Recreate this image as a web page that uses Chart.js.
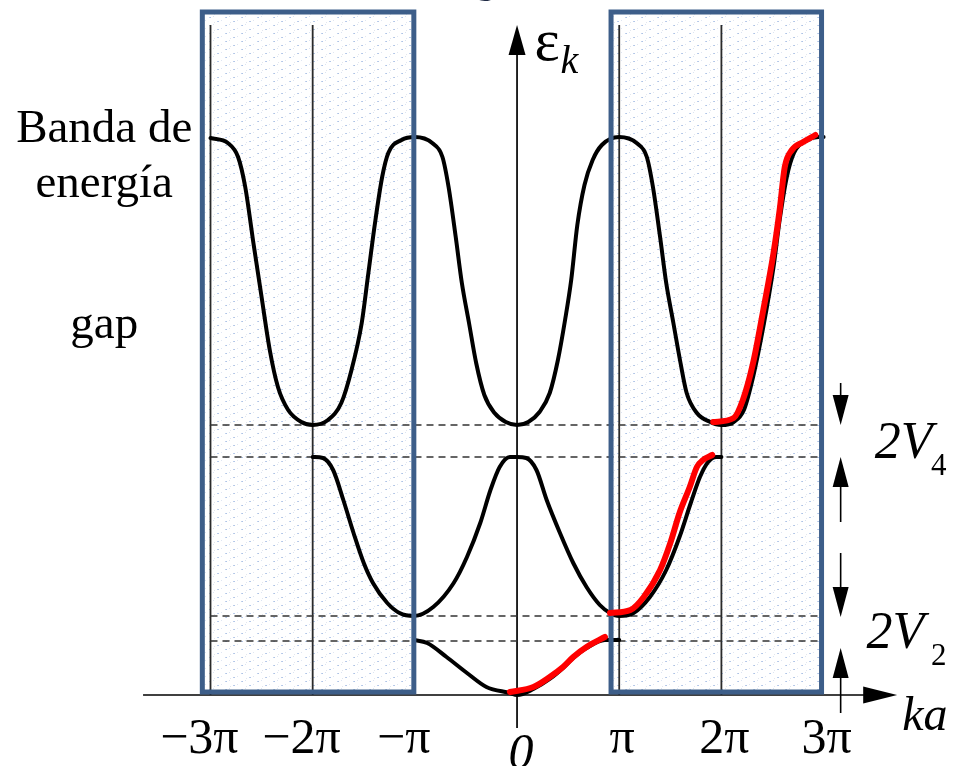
<!DOCTYPE html>
<html>
<head>
<meta charset="utf-8">
<script src="https://cdn.jsdelivr.net/npm/chart.js@4"></script>
<style>
  html, body { margin: 0; padding: 0; background: #fff; }
  #wrap { width: 960px; height: 766px; }
</style>
</head>
<body>
<div id="wrap"><canvas id="bands" width="960" height="766"></canvas></div>
<script>
// ka in units of pi, energy in arbitrary units (ka axis = 0)
const band1Ka = [-1.01, -0.88, -0.69, -0.49, -0.30, -0.07, 0.00, 0.16, 0.32, 0.45, 0.55, 0.68, 0.86, 1.00];
const band1E  = [0.55, 0.52, 0.38, 0.22, 0.08, 0.02, 0.00, 0.06, 0.16, 0.27, 0.37, 0.47, 0.55, 0.55];

const band2Ka = [-2.00, -1.90, -1.80, -1.70, -1.60, -1.50, -1.41, -1.27, -1.15, -1.01,
  -0.82, -0.62, -0.49, -0.36, -0.26, -0.17, -0.07, 0.00,
  0.09, 0.19, 0.29, 0.42, 0.55, 0.68, 0.81, 0.91, 1.00,
  1.14, 1.30, 1.46, 1.59, 1.70, 1.79, 1.87, 1.95, 2.00];
const band2E = [2.38, 2.37, 2.25, 1.95, 1.62, 1.32, 1.12, 0.92, 0.82, 0.79,
  0.88, 1.12, 1.38, 1.72, 2.05, 2.28, 2.38, 2.38,
  2.37, 2.25, 1.95, 1.62, 1.32, 1.08, 0.90, 0.82, 0.79,
  0.82, 0.98, 1.25, 1.58, 1.92, 2.18, 2.33, 2.38, 2.38];

const band3Ka = [-3.00, -2.83, -2.73, -2.66, -2.58, -2.50, -2.42, -2.34, -2.24, -2.11, -2.00,
  -1.85, -1.72, -1.62, -1.52, -1.46, -1.39, -1.32, -1.26, -1.13, -1.00,
  -0.83, -0.73, -0.67, -0.60, -0.54, -0.47, -0.40, -0.32, -0.22, -0.11, 0.00,
  0.11, 0.22, 0.32, 0.40, 0.47, 0.53, 0.59, 0.66, 0.74, 0.83, 1.00,
  1.17, 1.27, 1.33, 1.40, 1.46, 1.53, 1.60, 1.66, 1.76, 1.89, 2.00,
  2.12, 2.22, 2.31, 2.41, 2.51, 2.57, 2.64, 2.71, 2.84, 2.95, 3.00];
const band3E = [5.57, 5.52, 5.38, 5.08, 4.52, 3.98, 3.45, 3.08, 2.85, 2.73, 2.70,
  2.75, 2.92, 3.25, 3.72, 4.18, 4.72, 5.18, 5.42, 5.55, 5.58,
  5.52, 5.38, 5.08, 4.58, 4.12, 3.72, 3.32, 3.00, 2.82, 2.73, 2.70,
  2.73, 2.83, 3.02, 3.35, 3.75, 4.15, 4.70, 5.10, 5.35, 5.50, 5.58,
  5.52, 5.38, 5.08, 4.58, 4.12, 3.72, 3.32, 3.02, 2.82, 2.73, 2.70,
  2.73, 2.85, 3.18, 3.68, 4.28, 4.75, 5.18, 5.42, 5.55, 5.58, 5.58];

// hand-drawn red extended-zone trace
const red1Ka = [-0.07, 0.16, 0.32, 0.45, 0.55, 0.68, 0.86];
const red1E  = [0.03, 0.08, 0.18, 0.28, 0.38, 0.48, 0.58];
const red2Ka = [0.91, 1.11, 1.24, 1.40, 1.50, 1.59, 1.69, 1.76, 1.82, 1.91];
const red2E  = [0.82, 0.85, 0.98, 1.25, 1.52, 1.82, 2.08, 2.28, 2.35, 2.40];
const red3Ka = [1.92, 2.12, 2.21, 2.31, 2.41, 2.51, 2.57, 2.62, 2.69, 2.80, 2.92];
const red3E  = [2.73, 2.77, 2.95, 3.32, 3.85, 4.42, 4.85, 5.28, 5.45, 5.53, 5.60];

const gapLevels = [2.70, 2.38, 0.79, 0.54];
const tickKa = [-3, -2, -1, 0, 1, 2, 3];
const tickLabels = ['−3π', '−2π', '−π', '0', 'π', '2π', '3π'];
const zoneLines = [-3, -2, 1, 2];

const SERIF = '"Liberation Serif", "DejaVu Serif", serif';

function toPoints(ka, e) {
  return ka.map((x, i) => ({ x: x, y: e[i] }));
}

function curve(ka, e, color, width) {
  return {
    data: toPoints(ka, e),
    borderColor: color,
    borderWidth: width,
    cubicInterpolationMode: 'monotone',
    pointRadius: 0,
    fill: false,
    borderCapStyle: 'round',
    borderJoinStyle: 'round'
  };
}

function makeStipple(ctx) {
  const c = document.createElement('canvas');
  c.width = 16; c.height = 8;
  const p = c.getContext('2d');
  p.fillStyle = '#ffffff';
  p.fillRect(0, 0, 16, 8);
  const dots = [
    [1, 1, '#c3d3ec'], [2, 1, '#aec3e6'], [5, 0, '#dbe4f2'],
    [9, 5, '#bccdea'], [10, 5, '#b3c7e8'], [13, 4, '#dfe6f2'],
    [6, 6, '#e2e6ee']
  ];
  dots.forEach(d => { p.fillStyle = d[2]; p.fillRect(d[0], d[1], 1, 1); });
  return ctx.createPattern(c, 'repeat');
}

function arrowHead(ctx, px, py, dx, dy, len, half) {
  const bx = px - dx * len, by = py - dy * len;
  ctx.beginPath();
  ctx.moveTo(px, py);
  ctx.lineTo(bx - dy * half, by + dx * half);
  ctx.lineTo(bx + dy * half, by - dx * half);
  ctx.closePath();
  ctx.fill();
}

const boxes = [[-3.08, -1.01], [0.92, 2.98]];

const decor = {
  id: 'decor',
  beforeDatasetsDraw(chart) {
    const ctx = chart.ctx;
    const xs = chart.scales.x, ys = chart.scales.y;
    ctx.save();

    // shaded zones
    ctx.fillStyle = makeStipple(ctx);
    boxes.forEach(b => {
      const l = xs.getPixelForValue(b[0]), r = xs.getPixelForValue(b[1]);
      const t = ys.getPixelForValue(6.83), btm = ys.getPixelForValue(0.03);
      ctx.fillRect(l, t, r - l, btm - t);
    });

    // zone boundary lines
    ctx.strokeStyle = '#2a2a2a';
    ctx.lineWidth = 1.8;
    zoneLines.forEach(v => {
      const px = xs.getPixelForValue(v);
      ctx.beginPath();
      ctx.moveTo(px, ys.getPixelForValue(6.70));
      ctx.lineTo(px, ys.getPixelForValue(0));
      ctx.stroke();
    });

    // axes
    ctx.strokeStyle = '#000';
    ctx.fillStyle = '#000';
    ctx.lineWidth = 1.7;
    const y0 = ys.getPixelForValue(0);
    const xTip = xs.getPixelForValue(3.72);
    ctx.beginPath();
    ctx.moveTo(xs.getPixelForValue(-3.66), y0);
    ctx.lineTo(xTip - 20, y0);
    ctx.stroke();
    arrowHead(ctx, xTip, y0, 1, 0, 34, 8.5);

    const x0 = xs.getPixelForValue(0);
    const yTip = ys.getPixelForValue(6.70);
    ctx.beginPath();
    ctx.moveTo(x0, ys.getPixelForValue(-0.33));
    ctx.lineTo(x0, yTip + 20);
    ctx.stroke();
    arrowHead(ctx, x0, yTip, 0, -1, 30, 8.5);

    // gap arrows
    const ax = xs.getPixelForValue(3.167);
    const gapArrows = [[3.12, 2.70], [1.73, 2.38], [1.42, 0.78], [-0.18, 0.47]];
    ctx.lineWidth = 1.6;
    gapArrows.forEach(a => {
      const from = ys.getPixelForValue(a[0]), tip = ys.getPixelForValue(a[1]);
      const dir = tip > from ? 1 : -1;
      ctx.beginPath();
      ctx.moveTo(ax, from);
      ctx.lineTo(ax, tip - dir * 15);
      ctx.stroke();
      arrowHead(ctx, ax, tip, 0, dir, 30, 8);
    });

    ctx.restore();
  },
  afterDatasetDraw(chart, args) {
    // blue zone frames go over the black bands, under the red trace
    if (args.index !== 3) return;
    const ctx = chart.ctx;
    const xs = chart.scales.x, ys = chart.scales.y;
    ctx.save();
    ctx.strokeStyle = '#3d5e89';
    ctx.lineWidth = 5;
    boxes.forEach(b => {
      const l = xs.getPixelForValue(b[0]), r = xs.getPixelForValue(b[1]);
      const t = ys.getPixelForValue(6.83), btm = ys.getPixelForValue(0.03);
      ctx.strokeRect(l, t, r - l, btm - t);
    });
    ctx.restore();
  },
  afterDatasetsDraw(chart) {
    const ctx = chart.ctx;
    const xs = chart.scales.x, ys = chart.scales.y;
    ctx.save();
    ctx.fillStyle = '#000';
    ctx.textBaseline = 'alphabetic';

    // tick labels
    ctx.font = '50px ' + SERIF;
    tickKa.forEach((v, i) => {
      const label = tickLabels[i];
      const px = xs.getPixelForValue(v);
      if (label === '0') {
        ctx.font = 'italic 50px ' + SERIF;
        ctx.textAlign = 'center';
        ctx.fillText('0', px + 4, ys.getPixelForValue(-0.73));
        ctx.font = '50px ' + SERIF;
        return;
      }
      let body = label, minus = '';
      if (label[0] === '−') { minus = '−'; body = label.slice(1); }
      const w = ctx.measureText(body).width;
      const left = px + 3 - w / 2;
      ctx.textAlign = 'left';
      ctx.fillText(body, left, ys.getPixelForValue(-0.58));
      if (minus) {
        ctx.textAlign = 'right';
        ctx.fillText(minus, left, ys.getPixelForValue(-0.58));
      }
    });

    // axis names
    ctx.textAlign = 'left';
    ctx.font = 'italic 48px ' + SERIF;
    ctx.fillText('ka', xs.getPixelForValue(3.77), ys.getPixelForValue(-0.35));
    ctx.font = '60px ' + SERIF;
    ctx.fillText('ε', xs.getPixelForValue(0.17), ys.getPixelForValue(6.35));
    ctx.font = 'italic 40px ' + SERIF;
    ctx.fillText('k', xs.getPixelForValue(0.425), ys.getPixelForValue(6.22));

    // gap labels
    const gapText = [['4', 3.50, 2.37], ['2', 3.42, 0.47]];
    gapText.forEach(g => {
      ctx.font = 'italic 52px ' + SERIF;
      const gx = xs.getPixelForValue(g[1]), gy = ys.getPixelForValue(g[2]);
      ctx.fillText('2V', gx, gy);
      ctx.font = '31px ' + SERIF;
      ctx.fillText(g[0], xs.getPixelForValue(4.05), gy + 17);
    });

    // left notes
    ctx.textAlign = 'center';
    ctx.font = '47px ' + SERIF;
    const lx = xs.getPixelForValue(-4.04);
    ctx.fillText('Banda de', lx, ys.getPixelForValue(5.53));
    ctx.fillText('energía', lx, ys.getPixelForValue(4.98));
    ctx.fillText('gap', lx, ys.getPixelForValue(3.57));

    // clipped title fragment at the top edge
    ctx.fillStyle = '#1f2a44';
    ctx.font = 'bold 40px ' + SERIF;
    ctx.fillText('g', xs.getPixelForValue(-0.31), ys.getPixelForValue(7.03));

    ctx.restore();
  }
};

const datasets = [
  curve(red1Ka, red1E, '#ff0000', 6),
  curve(red2Ka, red2E, '#ff0000', 6),
  curve(red3Ka, red3E, '#ff0000', 6),
  curve(band1Ka, band1E, '#000000', 4),
  curve(band2Ka, band2E, '#000000', 4),
  curve(band3Ka, band3E, '#000000', 4)
];
gapLevels.forEach(lv => {
  datasets.push({
    data: [{ x: -3, y: lv }, { x: 2.97, y: lv }],
    borderColor: '#333333',
    borderWidth: 1.7,
    borderDash: [7, 5],
    pointRadius: 0,
    fill: false
  });
});

new Chart(document.getElementById('bands'), {
  type: 'line',
  data: { datasets: datasets },
  options: {
    responsive: false,
    animation: false,
    events: [],
    layout: { padding: 0 },
    plugins: { legend: { display: false }, tooltip: { enabled: false } },
    scales: {
      x: { type: 'linear', min: -5.06, max: 4.335, display: false },
      y: { type: 'linear', min: -0.71, max: 6.95, display: false }
    }
  },
  plugins: [decor]
});
</script>
</body>
</html>
